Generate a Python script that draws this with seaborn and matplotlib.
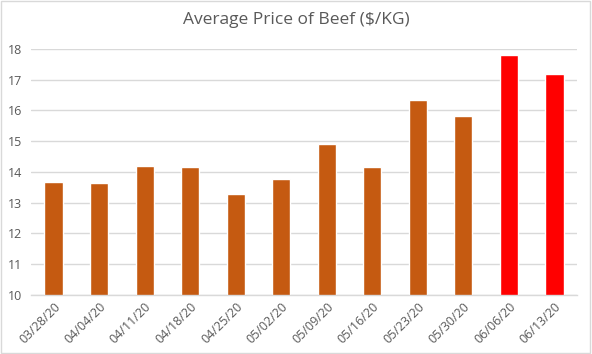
import matplotlib
matplotlib.use("Agg")
import matplotlib.pyplot as plt
import seaborn as sns
import pandas as pd
import numpy as np

dates = ["03/28/20", "04/04/20", "04/11/20", "04/18/20", "04/25/20", "05/02/20",
         "05/09/20", "05/16/20", "05/23/20", "05/30/20", "06/06/20", "06/13/20"]
prices = [13.67, 13.64, 14.20, 14.16, 13.28, 13.77, 14.91, 14.16, 16.34, 15.82, 17.80, 17.19]
highlight = [False] * 10 + [True, True]

df = pd.DataFrame({"date": dates, "price": prices,
                   "grp": ["hi" if h else "base" for h in highlight]})

sns.set_theme(style="white")
plt.rcParams['font.family'] = ['Open Sans', 'DejaVu Sans']

fig = plt.figure(figsize=(5.92, 3.54), dpi=100)
ax = fig.add_axes([0.052, 0.167, 0.923, 0.695])

sns.barplot(data=df, x="date", y="price", hue="grp",
            palette={"base": "#C55A11", "hi": "#FF0000"},
            dodge=False, width=0.4, legend=False, ax=ax, saturation=1)

ax.set_ylim(10, 18)
ax.set_yticks(range(10, 19))
ax.set_xlim(-0.5, len(dates) - 0.5)
ax.grid(axis="y", color="#D9D9D9", linewidth=1)
ax.set_axisbelow(True)
for s in ["left", "right", "top"]:
    ax.spines[s].set_visible(False)
ax.spines["bottom"].set_color("#D9D9D9")
ax.spines["bottom"].set_linewidth(1)

ax.set_xlabel("")
ax.set_ylabel("")
ax.tick_params(axis="y", length=0, labelsize=9, labelcolor="#595959", pad=6)
ax.tick_params(axis="x", which="major", length=0, labelsize=9, labelcolor="#595959", pad=4)
ax.set_xticks(np.arange(-0.5, len(dates), 1), minor=True)
ax.tick_params(axis="x", which="minor", length=4, color="#D9D9D9", width=1)
plt.setp(ax.get_xticklabels(), rotation=45, ha="right", rotation_mode="anchor")

fig.text(0.5, 0.943, "Average Price of Beef ($/KG)", ha="center", va="center",
         fontsize=12.5, color="#595959")

border = plt.Rectangle((0.002, 0.003), 0.995, 0.994, transform=fig.transFigure,
                       fill=False, edgecolor="#D9D9D9", linewidth=1)
fig.patches.append(border)

fig.savefig("out.png", dpi=100)
